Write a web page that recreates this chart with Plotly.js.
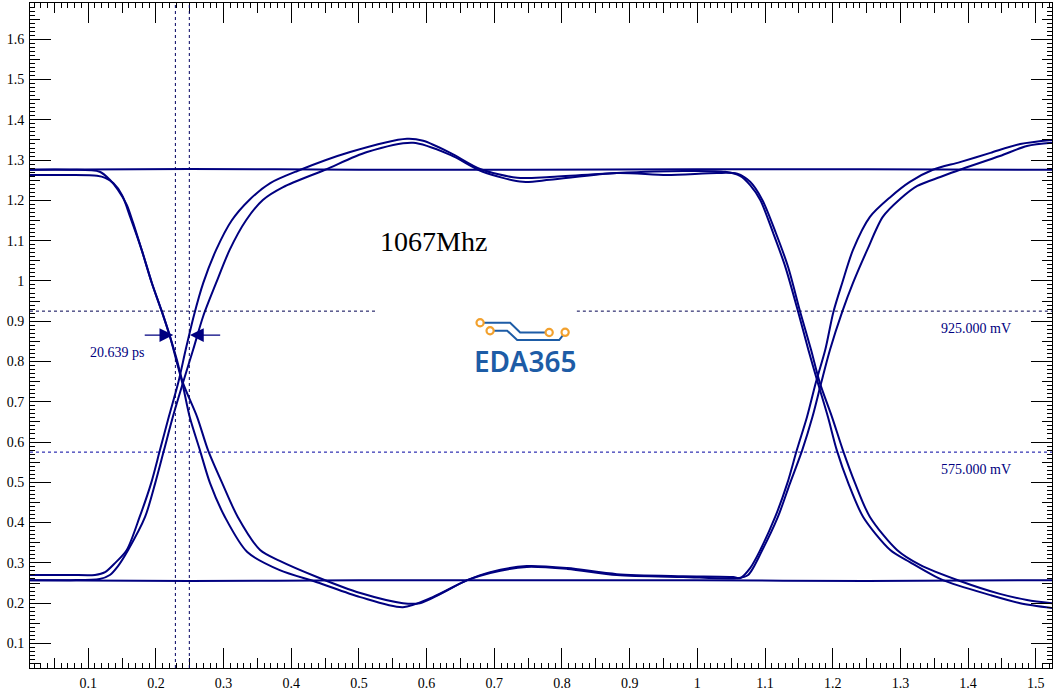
<!DOCTYPE html>
<html>
<head>
<meta charset="utf-8">
<script src="https://cdn.plot.ly/plotly-3.0.1.min.js"></script>
<style>html,body{margin:0;padding:0;background:#fff;}#chart{width:1056px;height:691px;}</style>
</head>
<body>
<div id="chart"></div>
<script>
// ---- Data (x in ns, y in V) ----
// Falling-left / low-ringing / rising-right path, copy a
const frAx = [0.014,0.073,0.113,0.125,0.137,0.150,0.162,0.179,0.194,0.209,0.221,0.230,0.239,0.250,0.265,0.280,0.302,0.335,0.383,0.438,0.502,0.565,0.609,0.660,0.694,0.748,0.808,0.881,0.979,1.053,1.063,1.078,1.093,1.115,1.133,1.147,1.162,1.175,1.189,1.201,1.214,1.230,1.255,1.285,1.314,1.348,1.388,1.433,1.477,1.524];
const frAy = [1.263,1.263,1.261,1.256,1.243,1.213,1.159,1.077,0.995,0.923,0.861,0.804,0.747,0.662,0.580,0.498,0.414,0.327,0.282,0.252,0.215,0.190,0.215,0.257,0.277,0.292,0.287,0.272,0.267,0.265,0.262,0.287,0.332,0.414,0.498,0.580,0.662,0.747,0.829,0.923,0.995,1.077,1.159,1.208,1.246,1.276,1.295,1.318,1.340,1.350];
// copy b
const frBx = [0.014,0.073,0.117,0.132,0.144,0.157,0.166,0.179,0.194,0.209,0.221,0.231,0.240,0.261,0.277,0.298,0.321,0.354,0.383,0.438,0.502,0.565,0.590,0.609,0.660,0.694,0.748,0.808,0.881,0.979,1.059,1.075,1.096,1.119,1.137,1.155,1.170,1.183,1.196,1.214,1.230,1.251,1.274,1.300,1.325,1.359,1.388,1.447,1.487,1.524];
const frBy = [1.276,1.276,1.271,1.251,1.226,1.189,1.146,1.077,0.995,0.923,0.861,0.804,0.747,0.662,0.580,0.498,0.414,0.332,0.305,0.265,0.225,0.200,0.200,0.213,0.257,0.275,0.290,0.285,0.270,0.265,0.262,0.270,0.332,0.414,0.498,0.580,0.662,0.747,0.829,0.923,0.995,1.077,1.159,1.204,1.236,1.258,1.276,1.310,1.335,1.343];
// Rising-left / high-ringing / falling-right path, copy a
const rfAx = [0.014,0.073,0.110,0.125,0.140,0.157,0.176,0.193,0.206,0.219,0.233,0.244,0.256,0.270,0.289,0.312,0.338,0.369,0.409,0.487,0.571,0.595,0.635,0.679,0.734,0.782,0.881,0.979,1.041,1.063,1.078,1.093,1.112,1.130,1.149,1.164,1.178,1.193,1.206,1.223,1.245,1.285,1.314,1.363,1.433,1.477,1.524];
const rfAy = [0.270,0.270,0.270,0.277,0.300,0.332,0.414,0.498,0.580,0.662,0.747,0.829,0.913,0.995,1.077,1.150,1.201,1.243,1.273,1.320,1.353,1.348,1.318,1.278,1.256,1.258,1.268,1.273,1.271,1.261,1.238,1.201,1.119,1.035,0.923,0.829,0.747,0.662,0.580,0.498,0.414,0.332,0.302,0.257,0.220,0.200,0.188];
// copy b
const rfBx = [0.014,0.073,0.117,0.132,0.144,0.159,0.184,0.199,0.212,0.225,0.240,0.255,0.270,0.289,0.309,0.333,0.358,0.388,0.450,0.512,0.580,0.635,0.683,0.742,0.782,0.881,0.955,1.029,1.059,1.078,1.096,1.116,1.134,1.152,1.168,1.181,1.199,1.215,1.233,1.255,1.295,1.329,1.388,1.447,1.487,1.524];
const rfBy = [0.257,0.257,0.260,0.270,0.292,0.332,0.414,0.498,0.580,0.662,0.747,0.829,0.913,0.995,1.077,1.150,1.201,1.233,1.276,1.320,1.343,1.313,1.271,1.246,1.251,1.268,1.263,1.268,1.266,1.246,1.201,1.119,1.035,0.923,0.829,0.747,0.662,0.580,0.498,0.414,0.332,0.295,0.255,0.223,0.208,0.200];
// Steady high / low levels
const highX = [0.014,0.25,0.50,0.75,1.00,1.25,1.524];
const highY = [1.276,1.278,1.276,1.276,1.277,1.277,1.276];
const lowX  = [0.014,0.25,0.50,0.75,1.00,1.25,1.524];
const lowY  = [0.257,0.255,0.257,0.257,0.257,0.255,0.257];
// Threshold markers (V) and timing cursors (ns)
const vihLevel = 0.925, vilLevel = 0.575;
const vihSegX = [0.014,0.524,null,0.822,1.524];
const vilSegX = [0.014,1.524];
const cursorX = [0.2288,0.2494];
const arrowY = 0.8656;
const arrowTipX = [0.2257,0.2503];
const arrowTailX = [0.1813,0.2972];
const labels = {vih:'925.000 mV', vil:'575.000 mV', jitter:'20.639 ps', freq:'1067Mhz', logo:'EDA365'};

const NAVY = '#000080';
const serif = 'Liberation Serif, Times New Roman, serif';

function wave(x, y){
  return {x:x, y:y, type:'scatter', mode:'lines', hoverinfo:'skip',
          line:{color:NAVY, width:2, shape:'spline', smoothing:0.8}};
}
const traces = [
  wave(highX, highY), wave(lowX, lowY),
  wave(frAx, frAy), wave(frBx, frBy), wave(rfAx, rfAy), wave(rfBx, rfBy),
  {x:vihSegX, y:vihSegX.map(v => v === null ? null : vihLevel), mode:'lines', hoverinfo:'skip',
   line:{color:'#000050', width:1, dash:'3px,3px'}},
  {x:vilSegX, y:vilSegX.map(() => vilLevel), mode:'lines', hoverinfo:'skip',
   line:{color:'#0000a0', width:1, dash:'3px,3px'}},
  {x:[], y:[], xaxis:'x2', yaxis:'y', mode:'lines'},
  {x:[], y:[], xaxis:'x3', yaxis:'y', mode:'lines'},
  {x:[], y:[], xaxis:'x', yaxis:'y2', mode:'lines'},
  {x:[], y:[], xaxis:'x', yaxis:'y3', mode:'lines'}
];

const xr = [0.014, 1.524], yr = [0.039, 1.690];
function ax(extra){
  return Object.assign({ticks:'inside', tickcolor:'#000', tickwidth:1, mirror:'ticks',
    showline:true, linecolor:'#000', linewidth:1, showgrid:false, zeroline:false, tick0:0}, extra);
}
const tickFont = {family:serif, size:14, color:'#000'};

const layout = {
  width:1056, height:691, autosize:false,
  margin:{l:30, r:4, t:3, b:23, pad:0},
  paper_bgcolor:'#fff', plot_bgcolor:'#fff', showlegend:false,
  xaxis:  ax({range:xr, dtick:0.1, ticklen:20, tickfont:tickFont, ticklabelstandoff:2}),
  xaxis2: ax({range:xr, overlaying:'x', anchor:'y', side:'bottom', dtick:0.05, ticklen:10, showticklabels:false}),
  xaxis3: ax({range:xr, overlaying:'x', anchor:'y', side:'bottom', dtick:0.01, ticklen:5, showticklabels:false}),
  yaxis:  ax({range:yr, dtick:0.1, ticklen:21, tickfont:tickFont, ticklabelstandoff:2}),
  yaxis2: ax({range:yr, overlaying:'y', anchor:'x', side:'left', dtick:0.05, ticklen:10, showticklabels:false}),
  yaxis3: ax({range:yr, overlaying:'y', anchor:'x', side:'left', dtick:0.01, ticklen:5, showticklabels:false}),
  shapes: [
    ...cursorX.map(cx => ({type:'line', xref:'x', yref:'paper', x0:cx, x1:cx, y0:0, y1:1,
       line:{color:'#000060', width:1, dash:'3px,3px'}})),
    // EDA365 logo circuit
    {type:'path', xref:'paper', yref:'paper', path:'M0.4404,0.5192 L0.4698,0.5192 L0.4796,0.5045 L0.5080,0.5045',
      line:{color:'#1d5ca6', width:2}},
    {type:'path', xref:'paper', yref:'paper', path:'M0.4502,0.5072 L0.4669,0.5072 L0.4767,0.4932 L0.5178,0.4932 L0.5236,0.5048',
      line:{color:'#1d5ca6', width:2}},
    ...[[0.4404,0.5192],[0.4502,0.5072],[0.5080,0.5045],[0.5236,0.5048]].map(p => ({
      type:'circle', xref:'paper', yref:'paper', xsizemode:'pixel', ysizemode:'pixel',
      xanchor:p[0], yanchor:p[1], x0:-3.6, x1:3.6, y0:-3.6, y1:3.6,
      fillcolor:'#ffffff', line:{color:'#f2a12e', width:2.2}}))
  ],
  annotations: [
    {x:arrowTipX[0], y:arrowY, ax:arrowTailX[0], ay:arrowY, xref:'x', yref:'y', axref:'x', ayref:'y',
     text:'', showarrow:true, arrowhead:2, arrowsize:2.3, arrowwidth:1.2, arrowcolor:NAVY, standoff:0},
    {x:arrowTipX[1], y:arrowY, ax:arrowTailX[1], ay:arrowY, xref:'x', yref:'y', axref:'x', ayref:'y',
     text:'', showarrow:true, arrowhead:2, arrowsize:2.3, arrowwidth:1.2, arrowcolor:NAVY, standoff:0},
    {x:0.100, y:0.8228, xref:'x', yref:'y', xanchor:'left', yanchor:'middle', showarrow:false,
     text:labels.jitter, font:{family:serif, size:14, color:NAVY}},
    {x:1.3576, y:0.882, xref:'x', yref:'y', xanchor:'left', yanchor:'middle', showarrow:false,
     text:labels.vih, font:{family:serif, size:14, color:NAVY}},
    {x:1.3576, y:0.533, xref:'x', yref:'y', xanchor:'left', yanchor:'middle', showarrow:false,
     text:labels.vil, font:{family:serif, size:14, color:NAVY}},
    {x:0.528, y:1.097, xref:'x', yref:'y', xanchor:'left', yanchor:'middle', showarrow:false,
     text:labels.freq, font:{family:serif, size:28, color:'#000'}},
    {x:0.4845, y:0.4617, xref:'paper', yref:'paper', xanchor:'center', yanchor:'middle', showarrow:false,
     text:labels.logo, font:{family:'Noto Sans, Open Sans, sans-serif', size:28, weight:600, color:'#1d5ca6'}}
  ]
};

Plotly.newPlot('chart', traces, layout, {staticPlot:true, displayModeBar:false});
</script>
</body>
</html>
